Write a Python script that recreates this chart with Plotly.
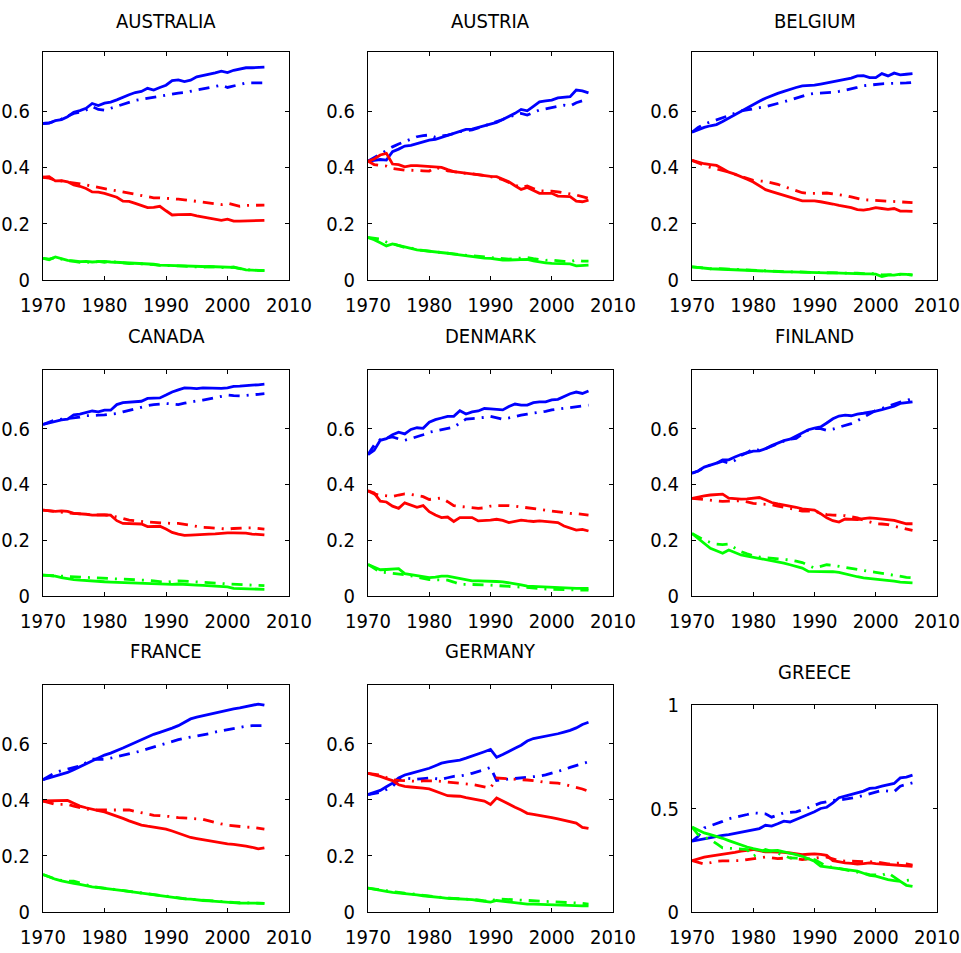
import plotly.graph_objects as go

YEARS = list(range(1970, 2007))
COUNTRIES = ["AUSTRALIA", "AUSTRIA", "BELGIUM", "CANADA", "DENMARK",
             "FINLAND", "FRANCE", "GERMANY", "GREECE"]

# blue = services, red = industry, green = agriculture; solid = data, dash-dot = model
AUS_SERV_DATA = [.556,.557,.566,.570,.580,.596,.602,.610,.627,.620,.628,.632,.640,.650,.658,.666,.670,.681,.675,.684,.692,.708,.711,.705,.710,.722,.726,.730,.736,.742,.737,.745,.750,.754,.754,.755,.756]
AUS_SERV_MODEL = [.556,.558,.565,.572,.582,.592,.596,.604,.616,.606,.603,.610,.617,.622,.630,.638,.642,.646,.650,.654,.658,.662,.664,.666,.670,.674,.678,.682,.686,.692,.684,.690,.696,.700,.700,.700,.700]
AUS_IND_DATA = [.365,.367,.352,.353,.349,.338,.333,.325,.313,.312,.308,.302,.294,.280,.279,.272,.264,.257,.258,.262,.246,.231,.232,.232,.233,.228,.224,.221,.217,.212,.216,.209,.209,.210,.211,.212,.212]
AUS_IND_MODEL = [.365,.362,.355,.352,.349,.344,.342,.338,.333,.329,.326,.322,.318,.313,.308,.305,.300,.296,.292,.292,.291,.289,.287,.285,.282,.279,.277,.275,.271,.268,.273,.268,.262,.265,.266,.267,.266]
AUS_AGR_DATA = [.077,.072,.082,.075,.070,.068,.065,.066,.064,.065,.066,.064,.063,.062,.060,.060,.058,.057,.056,.053,.052,.051,.050,.050,.049,.047,.046,.047,.047,.046,.047,.045,.041,.036,.035,.034,.033]
AUS_AGR_MODEL = [.077,.074,.080,.074,.069,.066,.063,.064,.062,.066,.063,.066,.064,.061,.058,.059,.058,.056,.055,.052,.052,.050,.050,.049,.048,.046,.045,.048,.046,.044,.043,.046,.040,.037,.035,.034,.033]

AUT_SERV_DATA = [.422,.424,.428,.426,.456,.465,.476,.478,.485,.490,.497,.500,.507,.515,.523,.528,.535,.536,.542,.550,.554,.560,.570,.580,.592,.606,.601,.617,.633,.636,.639,.647,.649,.651,.675,.672,.665]
AUT_SERV_MODEL = [.422,.435,.450,.462,.473,.483,.491,.500,.509,.513,.515,.507,.510,.515,.520,.527,.530,.533,.540,.547,.554,.562,.570,.580,.586,.592,.586,.595,.604,.608,.613,.617,.621,.618,.630,.637,.645]
AUT_IND_DATA = [.422,.430,.444,.450,.412,.410,.402,.406,.406,.405,.403,.401,.400,.392,.385,.382,.379,.376,.373,.370,.368,.367,.358,.349,.335,.322,.329,.318,.308,.308,.308,.298,.297,.296,.280,.278,.284]
AUT_IND_MODEL = [.422,.410,.407,.405,.396,.393,.390,.390,.390,.388,.387,.400,.395,.388,.385,.381,.379,.377,.375,.371,.367,.363,.356,.346,.337,.329,.334,.325,.317,.316,.316,.313,.310,.306,.302,.296,.290]
AUT_AGR_DATA = [.151,.143,.132,.121,.128,.122,.116,.112,.107,.105,.103,.100,.098,.095,.092,.089,.086,.083,.080,.078,.077,.074,.071,.071,.071,.072,.073,.068,.064,.061,.059,.058,.058,.057,.050,.052,.053]
AUT_AGR_MODEL = [.151,.149,.145,.135,.128,.121,.116,.114,.108,.105,.103,.101,.099,.096,.093,.090,.088,.085,.082,.080,.078,.076,.074,.074,.076,.078,.080,.076,.072,.070,.071,.068,.066,.065,.071,.067,.067]

BEL_SERV_DATA = [.525,.534,.542,.548,.552,.563,.575,.588,.601,.612,.623,.635,.646,.655,.663,.670,.678,.684,.690,.690,.692,.696,.700,.704,.708,.712,.717,.725,.726,.719,.719,.733,.725,.735,.729,.731,.733]
BEL_SERV_MODEL = [.525,.542,.554,.561,.568,.576,.584,.593,.601,.604,.607,.612,.616,.621,.627,.633,.639,.646,.654,.660,.663,.664,.664,.667,.670,.674,.678,.684,.690,.693,.696,.697,.698,.698,.698,.700,.702]
BEL_IND_DATA = [.425,.419,.413,.410,.407,.395,.383,.376,.368,.358,.348,.333,.321,.314,.307,.301,.295,.288,.281,.281,.281,.278,.275,.270,.265,.261,.257,.250,.248,.252,.257,.254,.251,.254,.245,.245,.244]
BEL_IND_MODEL = [.425,.415,.407,.400,.395,.389,.383,.375,.368,.360,.354,.352,.350,.345,.340,.332,.324,.317,.310,.308,.307,.308,.309,.306,.304,.300,.295,.290,.285,.284,.283,.281,.279,.279,.279,.277,.275]
BEL_AGR_DATA = [.047,.044,.041,.040,.039,.038,.037,.035,.034,.033,.033,.032,.031,.030,.030,.029,.029,.028,.027,.027,.026,.026,.025,.025,.024,.024,.024,.023,.022,.022,.021,.012,.017,.017,.021,.020,.017]
BEL_AGR_MODEL = [.047,.045,.042,.040,.041,.040,.039,.036,.035,.034,.035,.033,.032,.031,.031,.030,.029,.029,.029,.028,.027,.026,.026,.025,.025,.024,.024,.024,.023,.023,.022,.018,.019,.018,.021,.020,.018]

CAN_SERV_DATA = [.615,.621,.627,.631,.634,.649,.652,.658,.663,.660,.666,.666,.686,.693,.694,.696,.698,.708,.709,.710,.720,.731,.739,.746,.745,.743,.746,.745,.743,.744,.746,.751,.752,.755,.756,.757,.759]
CAN_SERV_MODEL = [.615,.622,.631,.634,.636,.637,.641,.646,.648,.648,.649,.651,.654,.660,.666,.672,.678,.682,.686,.688,.690,.688,.686,.691,.696,.699,.702,.706,.710,.715,.720,.718,.717,.719,.722,.723,.725]
CAN_IND_DATA = [.308,.305,.303,.305,.303,.296,.295,.293,.290,.291,.291,.290,.270,.260,.259,.258,.258,.249,.250,.250,.240,.228,.222,.217,.218,.220,.221,.222,.223,.225,.226,.226,.226,.225,.222,.220,.219]
CAN_IND_MODEL = [.308,.305,.302,.300,.298,.296,.294,.292,.291,.291,.291,.288,.284,.278,.272,.269,.266,.265,.264,.262,.260,.260,.260,.256,.252,.249,.246,.245,.244,.242,.240,.242,.244,.244,.244,.242,.240]
CAN_AGR_DATA = [.075,.073,.071,.066,.062,.059,.057,.055,.054,.052,.051,.050,.049,.048,.048,.047,.046,.045,.043,.042,.041,.042,.043,.041,.040,.039,.038,.037,.037,.035,.033,.027,.026,.026,.025,.024,.024]
CAN_AGR_MODEL = [.075,.073,.072,.071,.070,.069,.067,.066,.065,.064,.063,.062,.061,.061,.060,.060,.058,.056,.054,.051,.049,.052,.054,.053,.052,.051,.050,.049,.047,.045,.043,.042,.041,.040,.039,.038,.037]

DNK_SERV_DATA = [.507,.522,.558,.564,.578,.587,.581,.597,.603,.601,.623,.632,.638,.644,.644,.664,.652,.660,.663,.672,.671,.670,.667,.679,.688,.684,.684,.693,.696,.696,.703,.705,.715,.725,.731,.726,.735]
DNK_SERV_MODEL = [.507,.540,.561,.566,.570,.563,.558,.564,.570,.578,.587,.592,.597,.600,.605,.620,.634,.636,.637,.640,.644,.640,.634,.638,.644,.648,.652,.655,.658,.662,.667,.670,.672,.676,.679,.682,.684]
DNK_IND_DATA = [.377,.369,.340,.337,.322,.314,.334,.325,.318,.324,.302,.290,.281,.283,.267,.281,.281,.281,.269,.270,.272,.275,.271,.263,.267,.272,.269,.267,.269,.267,.265,.263,.251,.243,.236,.239,.233]
DNK_IND_MODEL = [.377,.366,.361,.359,.357,.362,.366,.364,.361,.356,.346,.348,.351,.338,.324,.321,.318,.316,.314,.316,.322,.324,.325,.324,.322,.319,.316,.313,.310,.307,.304,.301,.298,.296,.295,.293,.290]
DNK_AGR_DATA = [.113,.104,.094,.095,.096,.098,.080,.077,.074,.070,.066,.068,.071,.071,.067,.063,.058,.054,.054,.054,.054,.052,.051,.048,.045,.040,.035,.034,.033,.031,.029,.028,.028,.027,.027,.027,.027]
DNK_AGR_MODEL = [.113,.098,.086,.084,.082,.080,.076,.072,.068,.063,.059,.058,.058,.057,.050,.042,.042,.042,.042,.040,.039,.037,.035,.033,.033,.032,.031,.029,.027,.025,.024,.023,.022,.021,.021,.021,.021]

FIN_SERV_DATA = [.440,.448,.462,.470,.476,.488,.488,.498,.507,.513,.519,.520,.528,.539,.548,.557,.562,.573,.585,.596,.602,.606,.620,.635,.645,.648,.646,.652,.655,.658,.663,.668,.673,.680,.690,.694,.696]
FIN_SERV_MODEL = [.440,.448,.461,.470,.476,.483,.476,.486,.504,.514,.528,.522,.528,.537,.547,.555,.562,.565,.580,.595,.600,.600,.594,.598,.605,.612,.618,.628,.641,.652,.665,.672,.680,.688,.695,.700,.708]
FIN_IND_DATA = [.350,.355,.359,.362,.364,.365,.351,.348,.347,.348,.350,.353,.345,.335,.330,.326,.324,.318,.312,.310,.308,.295,.280,.270,.265,.276,.276,.274,.277,.280,.278,.276,.274,.271,.265,.259,.259]
FIN_IND_MODEL = [.350,.348,.347,.344,.341,.339,.340,.341,.341,.337,.332,.330,.329,.327,.322,.318,.315,.310,.304,.304,.304,.298,.292,.290,.289,.288,.284,.280,.272,.265,.259,.258,.256,.250,.245,.240,.235]
FIN_AGR_DATA = [.224,.207,.190,.171,.162,.153,.165,.155,.147,.143,.139,.136,.132,.128,.124,.118,.112,.106,.100,.088,.088,.088,.088,.087,.085,.079,.073,.069,.065,.063,.061,.058,.055,.053,.050,.048,.047]
FIN_AGR_MODEL = [.224,.212,.200,.192,.186,.184,.186,.172,.159,.151,.144,.140,.138,.135,.132,.130,.129,.125,.120,.110,.100,.106,.112,.110,.106,.103,.100,.096,.092,.088,.085,.081,.077,.073,.070,.067,.065]

FRA_SERV_DATA = [.472,.479,.486,.492,.498,.508,.519,.530,.540,.550,.560,.567,.575,.585,.595,.605,.615,.625,.634,.641,.648,.656,.665,.678,.689,.695,.700,.706,.712,.717,.722,.725,.728,.732,.736,.742,.738]
FRA_SERV_MODEL = [.472,.486,.498,.504,.509,.515,.521,.533,.545,.545,.545,.549,.554,.560,.566,.570,.575,.582,.589,.596,.603,.609,.615,.620,.624,.627,.630,.636,.642,.646,.650,.655,.660,.663,.665,.665,.665]
FRA_IND_DATA = [.396,.396,.396,.397,.398,.388,.378,.372,.366,.362,.357,.350,.343,.334,.325,.317,.310,.306,.302,.299,.296,.289,.282,.274,.266,.262,.258,.254,.249,.246,.243,.241,.239,.235,.231,.225,.229]
FRA_IND_MODEL = [.396,.390,.384,.384,.384,.378,.372,.368,.364,.364,.364,.364,.364,.364,.364,.359,.354,.350,.345,.344,.343,.340,.337,.335,.333,.332,.331,.325,.319,.314,.310,.307,.305,.303,.302,.299,.296]
FRA_AGR_DATA = [.134,.125,.117,.111,.106,.102,.099,.094,.090,.087,.085,.082,.079,.076,.073,.070,.067,.064,.061,.058,.055,.052,.049,.047,.046,.043,.041,.040,.038,.036,.034,.033,.032,.032,.032,.031,.031]
FRA_AGR_MODEL = [.134,.126,.118,.113,.110,.110,.104,.096,.091,.088,.085,.082,.079,.076,.073,.070,.067,.064,.061,.058,.055,.052,.050,.048,.046,.044,.042,.040,.038,.036,.035,.034,.033,.033,.033,.032,.031]

DEU_SERV_DATA = [.419,.427,.434,.447,.460,.478,.489,.495,.501,.507,.513,.522,.531,.536,.539,.542,.549,.556,.564,.572,.580,.552,.562,.572,.584,.595,.610,.619,.623,.627,.632,.636,.642,.648,.657,.669,.677]
DEU_SERV_MODEL = [.419,.422,.427,.437,.448,.472,.478,.476,.474,.476,.478,.476,.474,.479,.484,.486,.489,.495,.501,.508,.516,.469,.472,.474,.476,.478,.480,.481,.485,.489,.495,.501,.508,.516,.522,.528,.536]
DEU_IND_DATA = [.495,.490,.484,.476,.469,.454,.448,.446,.445,.442,.439,.431,.423,.415,.414,.413,.408,.404,.400,.396,.384,.407,.396,.384,.374,.364,.352,.348,.345,.341,.337,.332,.327,.322,.317,.302,.298]
DEU_IND_MODEL = [.495,.492,.489,.480,.472,.470,.469,.468,.466,.468,.469,.468,.466,.464,.462,.460,.458,.455,.451,.446,.442,.478,.476,.474,.473,.472,.471,.469,.466,.462,.461,.460,.456,.451,.446,.439,.431]
DEU_AGR_DATA = [.085,.082,.079,.074,.070,.068,.067,.064,.061,.058,.055,.053,.051,.049,.048,.047,.046,.044,.041,.038,.035,.041,.038,.035,.033,.031,.028,.028,.027,.027,.026,.025,.024,.023,.023,.022,.022]
DEU_AGR_MODEL = [.085,.082,.079,.075,.071,.069,.067,.065,.062,.059,.056,.054,.052,.050,.049,.048,.047,.045,.043,.040,.038,.047,.046,.045,.043,.042,.041,.040,.039,.038,.038,.037,.036,.035,.034,.031,.028]

GRC_SERV_DATA = [.342,.348,.355,.360,.365,.370,.374,.380,.387,.393,.398,.403,.419,.415,.426,.439,.435,.447,.458,.471,.484,.500,.506,.527,.552,.560,.568,.576,.584,.597,.600,.608,.616,.621,.648,.652,.661]
GRC_SERV_MODEL = [.342,.366,.406,.416,.426,.438,.450,.456,.463,.471,.479,.476,.474,.458,.468,.479,.481,.484,.493,.503,.515,.527,.533,.539,.541,.544,.550,.555,.563,.571,.579,.587,.584,.581,.608,.616,.624]
GRC_IND_DATA = [.248,.257,.265,.270,.274,.278,.281,.288,.294,.298,.302,.296,.290,.290,.290,.288,.285,.281,.277,.279,.281,.278,.274,.248,.242,.237,.235,.232,.234,.237,.234,.232,.230,.229,.226,.223,.221]
GRC_IND_MODEL = [.248,.240,.232,.238,.245,.247,.248,.248,.248,.253,.258,.262,.265,.262,.258,.260,.261,.257,.253,.257,.261,.263,.265,.257,.248,.246,.245,.245,.245,.243,.242,.237,.232,.235,.237,.232,.226]
GRC_AGR_DATA = [.410,.396,.382,.374,.366,.356,.345,.334,.323,.314,.306,.300,.294,.296,.297,.291,.285,.277,.269,.257,.245,.221,.217,.213,.209,.205,.201,.197,.187,.177,.173,.165,.156,.152,.148,.129,.124]
GRC_AGR_MODEL = [.410,.374,.362,.350,.330,.310,.308,.306,.304,.302,.269,.285,.302,.293,.285,.273,.261,.260,.258,.255,.253,.237,.221,.216,.210,.205,.200,.194,.188,.181,.179,.177,.189,.168,.148,.152,.156]

X_TICKS = [1970, 1980, 1990, 2000, 2010]
Y_TICKS = [0, 0.2, 0.4, 0.6]
Y_TICKS_GREECE = [0, 0.5, 1]

SERIES = {
    "AUSTRALIA": (AUS_SERV_DATA, AUS_SERV_MODEL, AUS_IND_DATA, AUS_IND_MODEL, AUS_AGR_DATA, AUS_AGR_MODEL),
    "AUSTRIA": (AUT_SERV_DATA, AUT_SERV_MODEL, AUT_IND_DATA, AUT_IND_MODEL, AUT_AGR_DATA, AUT_AGR_MODEL),
    "BELGIUM": (BEL_SERV_DATA, BEL_SERV_MODEL, BEL_IND_DATA, BEL_IND_MODEL, BEL_AGR_DATA, BEL_AGR_MODEL),
    "CANADA": (CAN_SERV_DATA, CAN_SERV_MODEL, CAN_IND_DATA, CAN_IND_MODEL, CAN_AGR_DATA, CAN_AGR_MODEL),
    "DENMARK": (DNK_SERV_DATA, DNK_SERV_MODEL, DNK_IND_DATA, DNK_IND_MODEL, DNK_AGR_DATA, DNK_AGR_MODEL),
    "FINLAND": (FIN_SERV_DATA, FIN_SERV_MODEL, FIN_IND_DATA, FIN_IND_MODEL, FIN_AGR_DATA, FIN_AGR_MODEL),
    "FRANCE": (FRA_SERV_DATA, FRA_SERV_MODEL, FRA_IND_DATA, FRA_IND_MODEL, FRA_AGR_DATA, FRA_AGR_MODEL),
    "GERMANY": (DEU_SERV_DATA, DEU_SERV_MODEL, DEU_IND_DATA, DEU_IND_MODEL, DEU_AGR_DATA, DEU_AGR_MODEL),
    "GREECE": (GRC_SERV_DATA, GRC_SERV_MODEL, GRC_IND_DATA, GRC_IND_MODEL, GRC_AGR_DATA, GRC_AGR_MODEL),
}

W, H = 961, 953
COLS_PX = [(43, 289), (368, 613), (692, 937)]
ROWS_PX = [(52, 280), (370, 596), (685, 912)]
GREECE_ROW_PX = (705, 912)
TITLE_Y_PX = [21, 336, 651]
GREECE_TITLE_Y_PX = 672

FONT = "Liberation Sans Narrow, Arial Narrow, DejaVu Sans Condensed, sans-serif"
COLORS = ["#0000ff", "#0000ff", "#ff0000", "#ff0000", "#00ff00", "#00ff00"]
DASHES = ["solid", "11px,7px,2px,7px"] * 3

fig = go.Figure()
layout = {}
annotations = []
for i, name in enumerate(COUNTRIES):
    r, c = divmod(i, 3)
    n = "" if i == 0 else str(i + 1)
    x0, x1 = COLS_PX[c]
    y0, y1 = GREECE_ROW_PX if name == "GREECE" else ROWS_PX[r]
    greece = name == "GREECE"
    for s, vals in enumerate(SERIES[name]):
        fig.add_trace(go.Scatter(
            x=YEARS, y=vals, mode="lines", xaxis="x" + n, yaxis="y" + n,
            line=dict(color=COLORS[s], width=2.8, dash=DASHES[s]),
            showlegend=False, hoverinfo="skip"))
    common = dict(showline=True, linecolor="black", linewidth=1.3, mirror="allticks",
                  ticks="inside", ticklen=4, tickwidth=1, tickcolor="black",
                  showgrid=False, zeroline=False, automargin=False,
                  ticklabeloverflow="allow",
                  tickfont=dict(family=FONT, size=20, color="black"))
    layout["xaxis" + n] = dict(common, domain=[x0 / W, x1 / W], anchor="y" + n,
                               range=[1970, 2010], tickvals=X_TICKS,
                               ticklabelstandoff=7)
    layout["yaxis" + n] = dict(common, domain=[1 - y1 / H, 1 - y0 / H], anchor="x" + n,
                               range=[0, 1] if greece else [0, 0.81],
                               tickvals=Y_TICKS_GREECE if greece else Y_TICKS,
                               ticktext=[str(v) for v in (Y_TICKS_GREECE if greece else Y_TICKS)],
                               ticklabelstandoff=8)
    ty = GREECE_TITLE_Y_PX if greece else TITLE_Y_PX[r]
    annotations.append(dict(text=name, x=(x0 + x1) / 2 / W, y=1 - ty / H,
                            xref="paper", yref="paper", xanchor="center", yanchor="middle",
                            showarrow=False, font=dict(family=FONT, size=20, color="black")))

fig.update_layout(**layout)
fig.update_layout(template="none", width=W, height=H, margin=dict(l=0, r=0, t=0, b=0),
                  paper_bgcolor="white", plot_bgcolor="white",
                  annotations=annotations, showlegend=False)
fig.write_html("out.html")
